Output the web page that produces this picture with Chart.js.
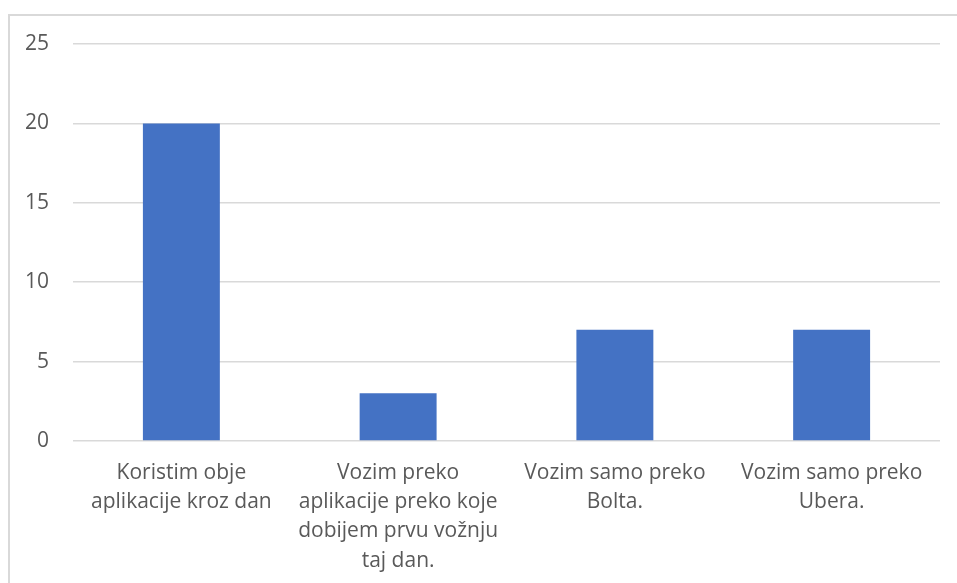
<!DOCTYPE html>
<html>
<head>
<meta charset="utf-8">
<script src="https://cdn.jsdelivr.net/npm/chart.js@4/dist/chart.umd.min.js"></script>
<style>
  html, body { margin: 0; padding: 0; background: #fff; }
  #wrap { position: relative; width: 957px; height: 583px; overflow: hidden; }
  #frame {
    position: absolute; left: 8px; top: 14px; width: 1000px; height: 700px;
    border: 2px solid #d9d9d9; box-sizing: border-box;
  }
  #chart { position: absolute; left: 0; top: 0; }
</style>
</head>
<body>
<div id="wrap">
  <div id="frame"></div>
  <canvas id="chart" width="957" height="583"></canvas>
</div>
<script>
const categories = [
  ['Koristim obje', 'aplikacije kroz dan'],
  ['Vozim preko', 'aplikacije preko koje', 'dobijem prvu vožnju', 'taj dan.'],
  ['Vozim samo preko', 'Bolta.'],
  ['Vozim samo preko', 'Ubera.']
];
const values = [20, 3, 7, 7];
const yTicks = [0, 5, 10, 15, 20, 25];

const textColor = '#595959';
const gridColor = '#d9d9d9';
const font = { family: '"Open Sans", sans-serif', size: 21 };

new Chart(document.getElementById('chart'), {
  type: 'bar',
  data: {
    labels: categories,
    datasets: [{
      data: values,
      backgroundColor: '#4472C4',
      barPercentage: 0.355,
      categoryPercentage: 1
    }]
  },
  options: {
    responsive: false,
    animation: false,
    layout: {
      padding: { top: 44, right: 17, left: 0, bottom: 0 }
    },
    plugins: {
      legend: { display: false },
      tooltip: { enabled: false }
    },
    scales: {
      x: {
        afterFit: (scale) => { scale.height = 142; },
        border: { display: false },
        grid: { display: false, drawTicks: false },
        ticks: {
          color: textColor,
          font: { ...font, lineHeight: 1.4 },
          padding: 17,
          maxRotation: 0,
          autoSkip: false
        }
      },
      y: {
        min: yTicks[0],
        max: yTicks[yTicks.length - 1],
        afterFit: (scale) => { scale.width = 73; },
        border: { display: false },
        grid: { color: gridColor, lineWidth: 1.5, drawTicks: false },
        afterBuildTicks: (scale) => { scale.ticks = yTicks.map(v => ({ value: v })); },
        ticks: {
          color: textColor,
          font: font,
          padding: 24
        }
      }
    }
  }
});
</script>
</body>
</html>
